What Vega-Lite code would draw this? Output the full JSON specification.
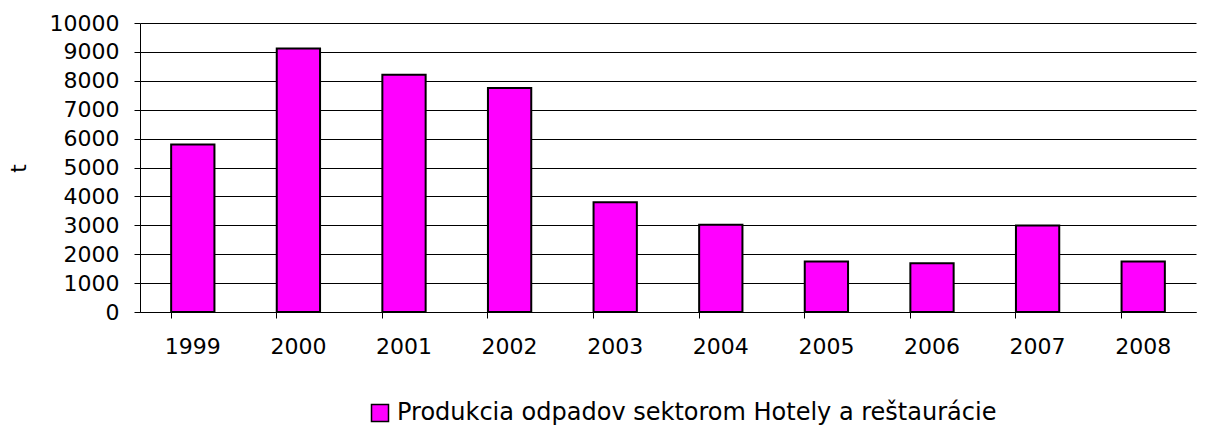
{
  "$schema": "https://vega.github.io/schema/vega-lite/v6.json",
  "autosize": {"type": "none"},
  "width": 1056,
  "height": 289,
  "padding": {"left": 140, "top": 23, "right": 9, "bottom": 113},
  "background": "white",
  "config": {
    "font": "DejaVu Sans",
    "view": {"stroke": null},
    "axis": {"labelFont": "DejaVu Sans", "titleFont": "DejaVu Sans", "labelColor": "black", "titleColor": "black"},
    "legend": {"labelFont": "DejaVu Sans"}
  },
  "data": {
    "values": [
      {"year": "1999", "value": 5800, "series": "Produkcia odpadov sektorom Hotely a reštaurácie"},
      {"year": "2000", "value": 9120, "series": "Produkcia odpadov sektorom Hotely a reštaurácie"},
      {"year": "2001", "value": 8210, "series": "Produkcia odpadov sektorom Hotely a reštaurácie"},
      {"year": "2002", "value": 7750, "series": "Produkcia odpadov sektorom Hotely a reštaurácie"},
      {"year": "2003", "value": 3800, "series": "Produkcia odpadov sektorom Hotely a reštaurácie"},
      {"year": "2004", "value": 3020, "series": "Produkcia odpadov sektorom Hotely a reštaurácie"},
      {"year": "2005", "value": 1750, "series": "Produkcia odpadov sektorom Hotely a reštaurácie"},
      {"year": "2006", "value": 1690, "series": "Produkcia odpadov sektorom Hotely a reštaurácie"},
      {"year": "2007", "value": 2990, "series": "Produkcia odpadov sektorom Hotely a reštaurácie"},
      {"year": "2008", "value": 1750, "series": "Produkcia odpadov sektorom Hotely a reštaurácie"}
    ]
  },
  "mark": {"type": "bar", "stroke": "black", "strokeWidth": 2},
  "encoding": {
    "x": {
      "field": "year", "type": "ordinal",
      "scale": {"paddingInner": 0.59, "paddingOuter": 0.295},
      "axis": {
        "title": null, "labelAngle": 0, "labelFontSize": 22, "labelPadding": 18,
        "domainColor": "black", "domainWidth": 1, "tickColor": "black", "tickSize": 6,
        "bandPosition": 0, "grid": false
      }
    },
    "y": {
      "field": "value", "type": "quantitative",
      "scale": {"domain": [0, 10000]},
      "axis": {
        "title": "t", "titleFontSize": 22, "titleFontWeight": "normal",
        "titleX": -122, "titleY": 145, "titleAlign": "center", "titleBaseline": "middle",
        "values": [0, 1000, 2000, 3000, 4000, 5000, 6000, 7000, 8000, 9000, 10000],
        "format": "d", "labelFontSize": 22, "labelPadding": 15,
        "domainColor": "black", "domainWidth": 1, "tickColor": "black", "tickSize": 6,
        "gridColor": "black", "gridWidth": 1, "gridOpacity": 1
      }
    },
    "color": {
      "field": "series", "type": "nominal",
      "scale": {"range": ["#FF00FF"]},
      "legend": {
        "title": null, "orient": "none", "legendX": 228, "legendY": 378,
        "symbolType": "square", "symbolSize": 289, "symbolStrokeColor": "black",
        "symbolStrokeWidth": 1.5, "symbolOpacity": 1, "labelFontSize": 24, "labelColor": "black",
        "labelOffset": 5, "labelLimit": 1000
      }
    }
  }
}
